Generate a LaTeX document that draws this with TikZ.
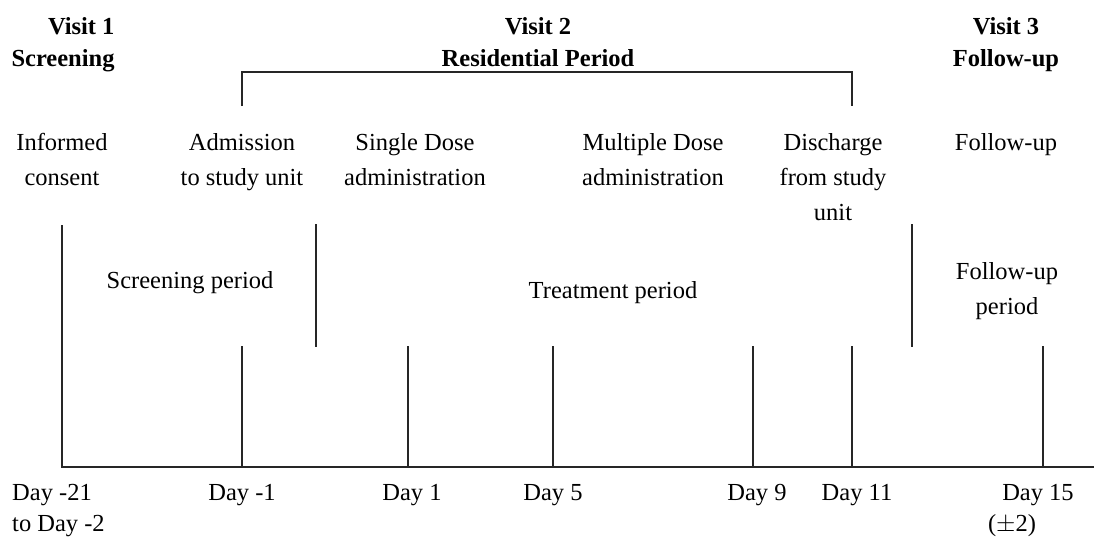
\documentclass[tikz,border=0pt]{standalone}
\usepackage{fontspec}
\setmainfont{Liberation Serif}
\begin{document}
\begin{tikzpicture}[x=1pt,y=-1pt,
  lbl/.style={font=\fontsize{24.5}{35}\selectfont, align=center, inner sep=0pt, anchor=base},
  hdr/.style={font=\fontsize{24.5}{32}\selectfont\bfseries, align=center, inner sep=0pt, anchor=base},
  ln/.style={line width=1.3pt, draw=black!85}]
\useasboundingbox (0,0) rectangle (1094,536);
% headers (anchor = baseline of last line)
\node[hdr, align=right] (v1) at (63,66) {Visit 1\\Screening};
\node[hdr] (v2) at (538,66) {Visit 2\\Residential Period};
\node[hdr] (v3) at (1006,66) {Visit 3\\Follow-up};
% event labels
\node[lbl] (ic) at (62,185) {Informed\\consent};
\node[lbl] (adm) at (242,185) {Admission\\to study unit};
\node[lbl] (sd) at (415,185) {Single Dose\\administration};
\node[lbl] (md) at (653,185) {Multiple Dose\\administration};
\node[lbl] (dis) at (833,220) {Discharge\\from study\\unit};
\node[lbl] (fu) at (1006,150) {Follow-up};
% periods
\node[lbl] (sp) at (190,288) {Screening period};
\node[lbl] (tp) at (613,298) {Treatment period};
\node[lbl] (fp) at (1007,314) {Follow-up\\period};
% day labels
\node[lbl, font=\fontsize{24.5}{31}\selectfont, anchor=base west, align=left] (d21) at (12,531) {Day -21\\to Day -2};
\node[lbl] (dm1) at (242,500) {Day -1};
\node[lbl] (d1) at (412,500) {Day 1};
\node[lbl] (d5) at (553,500) {Day 5};
\node[lbl] (d9) at (757,500) {Day 9};
\node[lbl] (d11) at (857,500) {Day 11};
\node[lbl] (d15) at (1038,500) {Day 15};
\node[lbl] (pm) at (1012,531) {(\(\pm\)2)};
% coordinates
\coordinate (a0) at (62,467);
\coordinate (aend) at (1094,467);
\coordinate (t0) at (62,225);
\coordinate (tm1b) at (242,467); \coordinate (tm1t) at (242,346);
\coordinate (t1b) at (408,467); \coordinate (t1t) at (408,346);
\coordinate (t5b) at (553,467); \coordinate (t5t) at (553,346);
\coordinate (t9b) at (753,467); \coordinate (t9t) at (753,346);
\coordinate (t11b) at (852,467); \coordinate (t11t) at (852,346);
\coordinate (t15b) at (1043,467); \coordinate (t15t) at (1043,346);
\coordinate (s1t) at (316,224); \coordinate (s1b) at (316,347);
\coordinate (s2t) at (912,224); \coordinate (s2b) at (912,347);
\coordinate (bl) at (242,106); \coordinate (br) at (852,106);
% axis and ticks
\draw[ln] (t0) -- (a0) -- (aend);
\draw[ln] (tm1t) -- (tm1b);
\draw[ln] (t1t) -- (t1b);
\draw[ln] (t5t) -- (t5b);
\draw[ln] (t9t) -- (t9b);
\draw[ln] (t11t) -- (t11b);
\draw[ln] (t15t) -- (t15b);
\draw[ln] (s1t) -- (s1b);
\draw[ln] (s2t) -- (s2b);
% bracket
\draw[ln] (bl) -- ++(0,-34) -| (br);
\end{tikzpicture}
\end{document}
